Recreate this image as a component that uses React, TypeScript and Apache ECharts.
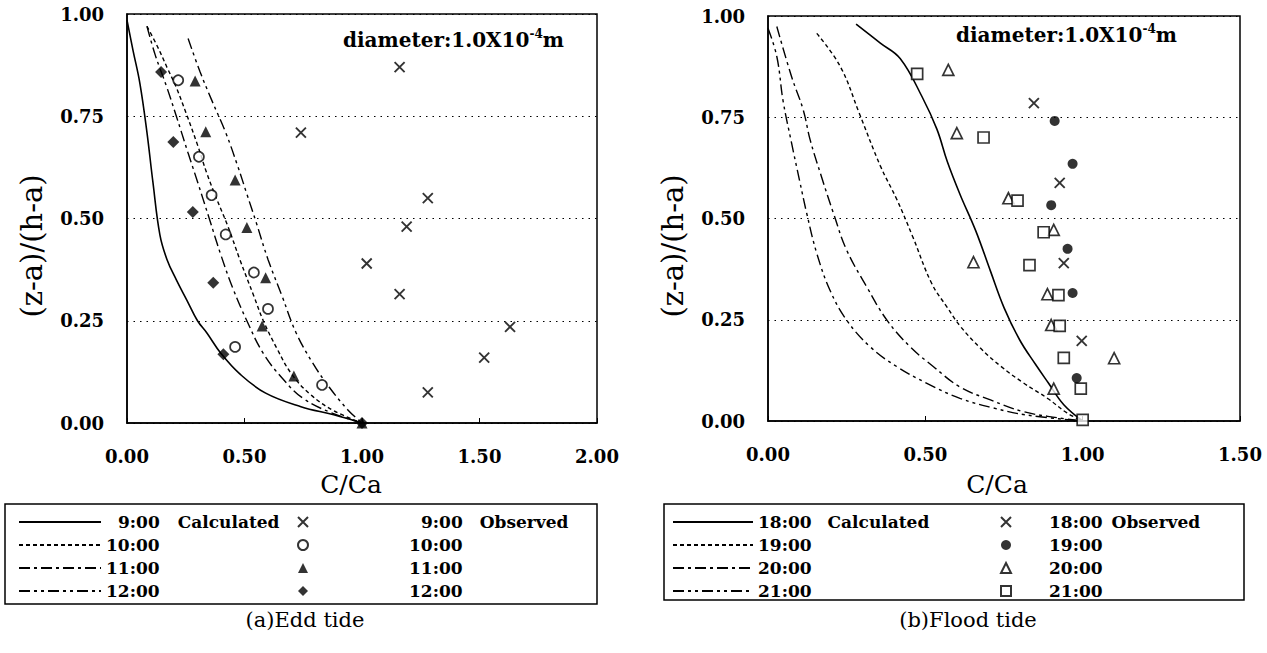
import React, { useEffect, useRef } from "react";
import * as echarts from "echarts";

// ---------- Ebb tide (a) ----------
const ebbCalc9 = [[0, 0.985], [0.026, 0.91], [0.055, 0.83], [0.085, 0.71], [0.11, 0.59], [0.14, 0.46], [0.17, 0.4], [0.21, 0.35], [0.255, 0.3], [0.3, 0.25], [0.34, 0.22], [0.4, 0.17], [0.48, 0.12], [0.59, 0.073], [0.74, 0.04], [0.88, 0.02], [1.0, 0]];
const ebbCalc10 = [[0.085, 0.97], [0.13, 0.92], [0.17, 0.87], [0.21, 0.82], [0.25, 0.76], [0.3, 0.68], [0.34, 0.61], [0.38, 0.55], [0.43, 0.48], [0.48, 0.4], [0.54, 0.31], [0.58, 0.25], [0.64, 0.18], [0.7, 0.12], [0.78, 0.07], [0.88, 0.03], [1.0, 0]];
const ebbCalc11 = [[0.085, 0.97], [0.12, 0.9], [0.17, 0.82], [0.21, 0.75], [0.26, 0.66], [0.3, 0.59], [0.35, 0.5], [0.4, 0.41], [0.45, 0.33], [0.51, 0.25], [0.58, 0.17], [0.66, 0.11], [0.75, 0.06], [0.87, 0.025], [1.0, 0]];
const ebbCalc12 = [[0.26, 0.94], [0.31, 0.86], [0.36, 0.79], [0.42, 0.71], [0.47, 0.63], [0.51, 0.56], [0.55, 0.49], [0.6, 0.4], [0.66, 0.31], [0.72, 0.22], [0.79, 0.147], [0.86, 0.088], [0.94, 0.032], [1.0, 0]];
const ebbObs9 = [[1.16, 0.87], [0.74, 0.71], [1.28, 0.55], [1.19, 0.48], [1.02, 0.39], [1.16, 0.315], [1.63, 0.235], [1.52, 0.16], [1.28, 0.075]];
const ebbObs10 = [[0.218, 0.838], [0.306, 0.651], [0.36, 0.557], [0.42, 0.461], [0.54, 0.368], [0.6, 0.279], [0.46, 0.186], [0.83, 0.093]];
const ebbObs11 = [[0.29, 0.836], [0.335, 0.712], [0.46, 0.594], [0.51, 0.478], [0.59, 0.355], [0.575, 0.237], [0.71, 0.115], [1.0, 0]];
const ebbObs12 = [[0.145, 0.858], [0.197, 0.687], [0.28, 0.516], [0.367, 0.343], [0.41, 0.168], [1.0, 0]];

// ---------- Flood tide (b) ----------
const floodCalc18 = [[0.28, 0.98], [0.357, 0.933], [0.42, 0.895], [0.49, 0.8], [0.537, 0.72], [0.57, 0.64], [0.61, 0.56], [0.66, 0.47], [0.707, 0.37], [0.75, 0.28], [0.8, 0.2], [0.85, 0.14], [0.89, 0.095], [0.94, 0.04], [1.0, 0]];
const floodCalc19 = [[0.155, 0.957], [0.23, 0.875], [0.29, 0.76], [0.357, 0.63], [0.41, 0.546], [0.46, 0.455], [0.52, 0.34], [0.57, 0.28], [0.61, 0.235], [0.675, 0.18], [0.74, 0.135], [0.81, 0.095], [0.89, 0.055], [0.95, 0.02], [1.0, 0]];
const floodCalc20 = [[0.028, 0.974], [0.075, 0.85], [0.112, 0.768], [0.134, 0.694], [0.17, 0.603], [0.208, 0.513], [0.25, 0.422], [0.314, 0.331], [0.378, 0.249], [0.452, 0.183], [0.526, 0.134], [0.61, 0.084], [0.707, 0.052], [0.812, 0.023], [0.92, 0.008], [1.0, 0]];
const floodCalc21 = [[0.0, 0.97], [0.028, 0.9], [0.048, 0.79], [0.075, 0.686], [0.1, 0.595], [0.123, 0.513], [0.155, 0.414], [0.197, 0.323], [0.25, 0.249], [0.325, 0.183], [0.41, 0.134], [0.505, 0.093], [0.61, 0.056], [0.717, 0.032], [0.82, 0.015], [1.0, 0]];
const floodObs18 = [[0.845, 0.785], [0.927, 0.588], [0.94, 0.39], [0.997, 0.198]];
const floodObs19 = [[0.911, 0.741], [0.968, 0.635], [0.9, 0.533], [0.952, 0.425], [0.968, 0.316], [0.981, 0.106]];
const floodObs20 = [[0.573, 0.867], [0.6, 0.711], [0.764, 0.55], [0.908, 0.472], [0.653, 0.392], [0.888, 0.313], [0.9, 0.237], [1.1, 0.155], [0.908, 0.08]];
const floodObs21 = [[0.474, 0.857], [0.685, 0.7], [0.793, 0.544], [0.876, 0.466], [0.831, 0.385], [0.923, 0.311], [0.927, 0.235], [0.94, 0.156], [0.994, 0.08], [1.0, 0.003]];

const ebbXTicks = [0, 2, 0.5];
const floodXTicks = [0, 1.5, 0.5];
const yTicks = [0, 1, 0.25];

const FONT = "DejaVu Serif";
const CROSS = "path://M0,0L10,10M10,0L0,10";

const lineDash: Record<string, any> = {
  solid: "solid",
  short: [4, 3],
  dashDot: [11, 4, 3, 4],
  dashDotDot: [11, 4, 3, 4, 3, 4],
};

function lineSeries(name: string, data: number[][], dash: any, idx: number) {
  return {
    name,
    type: "line",
    xAxisIndex: idx,
    yAxisIndex: idx,
    data,
    smooth: 0.4,
    symbol: "none",
    showSymbol: false,
    lineStyle: { color: "#000", width: dash === "solid" ? 1.6 : 1.4, type: dash },
    itemStyle: { color: "#000" },
    z: 2,
  };
}

function scatterSeries(name: string, data: number[][], kind: string, idx: number) {
  const styles: Record<string, any> = {
    cross: { symbol: CROSS, size: 10, itemStyle: { color: "rgba(0,0,0,0)", borderColor: "#000", borderWidth: 1.9 } },
    openCircle: { symbol: "circle", size: 10, itemStyle: { color: "#fff", borderColor: "#000", borderWidth: 1.7 } },
    fillTriangle: { symbol: "triangle", size: 11, itemStyle: { color: "#000" } },
    fillDiamond: { symbol: "diamond", size: 12, itemStyle: { color: "#000" } },
    fillCircle: { symbol: "circle", size: 10, itemStyle: { color: "#000" } },
    openTriangle: { symbol: "triangle", size: 11, itemStyle: { color: "#fff", borderColor: "#000", borderWidth: 1.7 } },
    openSquare: { symbol: "rect", size: 11, itemStyle: { color: "#fff", borderColor: "#000", borderWidth: 1.7 } },
  };
  const s = styles[kind];
  return {
    name,
    type: "scatter",
    xAxisIndex: idx,
    yAxisIndex: idx,
    data,
    symbol: s.symbol,
    symbolSize: s.size,
    itemStyle: s.itemStyle,
    z: 3,
  };
}

// legend labels: first token is the time, second the column title
const labelNames: Record<string, string[]> = {
  e9c: ["9:00", "Calculated"], e10c: ["10:00"], e11c: ["11:00"], e12c: ["12:00"],
  e9o: ["9:00", "Observed"], e10o: ["10:00"], e11o: ["11:00"], e12o: ["12:00"],
  f18c: ["18:00", "Calculated"], f19c: ["19:00"], f20c: ["20:00"], f21c: ["21:00"],
  f18o: ["18:00", "Observed"], f19o: ["19:00"], f20o: ["20:00"], f21o: ["21:00"],
};

const txt = { fontFamily: FONT, fontWeight: "bold", fontSize: 17, color: "#000", lineHeight: 18 };

function legendOf(names: string[], left: number, itemWidth: number, itemHeight: number, padTwo: number, gapC: number, isLine: boolean) {
  const lg: any = {
    data: names,
    orient: "vertical",
    left,
    top: 513,
    itemWidth,
    itemHeight,
    itemGap: 5,
    selectedMode: false,
    padding: 0,
    formatter: (n: string) => {
      const p = labelNames[n];
      const tok = p[0].length < 5 ? "one" : "two";
      return `{${tok}|${p[0]}}` + (p[1] ? `{c|${p[1]}}` : "");
    },
    textStyle: {
      ...txt,
      rich: {
        two: { ...txt, padding: [0, 0, 0, padTwo] },
        one: { ...txt, padding: [0, 0, 0, padTwo + 12] },
        c: { ...txt, padding: [0, 0, 0, gapC] },
      },
    },
  };
  if (isLine) {
    lg.itemStyle = { color: "rgba(0,0,0,0)", borderColor: "rgba(0,0,0,0)", borderWidth: 0 };
  }
  return lg;
}

function xAxisOf(idx: number, t: number[]) {
  return {
    gridIndex: idx,
    type: "value",
    min: t[0],
    max: t[1],
    interval: t[2],
    axisLine: { show: true, onZero: false, lineStyle: { color: "#000", width: 1.5 } },
    axisTick: { show: true, inside: true, length: 5, lineStyle: { color: "#000" } },
    axisLabel: { color: "#000", fontFamily: FONT, fontWeight: "bold", fontSize: 18, margin: 24, formatter: (v: number) => v.toFixed(2) },
    splitLine: { show: false },
  };
}

function yAxisOf(idx: number) {
  return {
    gridIndex: idx,
    type: "value",
    min: yTicks[0],
    max: yTicks[1],
    interval: yTicks[2],
    axisLine: { show: true, lineStyle: { color: "#000", width: 1.5 } },
    axisTick: { show: false },
    axisLabel: { color: "#000", fontFamily: FONT, fontWeight: "bold", fontSize: 18, margin: 23, formatter: (v: number) => v.toFixed(2) },
    splitLine: { show: true, lineStyle: { color: "#000", width: 1, type: [1.5, 5] } },
  };
}

function diameterText(x: number, y: number) {
  return {
    type: "text",
    x,
    y,
    style: {
      text: "{a|diameter:1.0X10}{s|-4}{a|m}",
      verticalAlign: "middle",
      rich: {
        a: { fontFamily: FONT, fontWeight: "bold", fontSize: 20, fill: "#000", color: "#000" },
        s: { fontFamily: FONT, fontWeight: "bold", fontSize: 12, fill: "#000", color: "#000", verticalAlign: "top", padding: [0, 0, 12, 0] },
      },
    },
  };
}

function plainText(text: string, x: number, y: number, size: number, rotate = 0) {
  return {
    type: "text",
    x,
    y,
    rotation: rotate,
    style: { text, fontFamily: FONT, fontSize: size, fill: "#000", align: "center", verticalAlign: "middle" },
  };
}

export default function App() {
  const ref = useRef<HTMLDivElement>(null);
  useEffect(() => {
    if (!ref.current) return;
    const chart = echarts.init(ref.current, undefined, { renderer: "svg" });
    const option: any = {
      animation: false,
      backgroundColor: "#fff",
      grid: [
        { left: 127, top: 14, width: 470, height: 409, show: true, borderColor: "#000", borderWidth: 1.5, backgroundColor: "transparent" },
        { left: 768, top: 16, width: 472, height: 405, show: true, borderColor: "#000", borderWidth: 1.5, backgroundColor: "transparent" },
      ],
      xAxis: [xAxisOf(0, ebbXTicks), xAxisOf(1, floodXTicks)],
      yAxis: [yAxisOf(0), yAxisOf(1)],
      legend: [
        legendOf(["e9c", "e10c", "e11c", "e12c"], 18, 82, 18, 0, 18, true),
        legendOf(["e9o", "e10o", "e11o", "e12o"], 297, 10, 10, 96, 17, false),
        legendOf(["f18c", "f19c", "f20c", "f21c"], 672, 80, 18, 0, 16, true),
        legendOf(["f18o", "f19o", "f20o", "f21o"], 1000, 10, 10, 33, 9, false),
      ],
      series: [
        lineSeries("e9c", ebbCalc9, lineDash.solid, 0),
        lineSeries("e10c", ebbCalc10, lineDash.short, 0),
        lineSeries("e11c", ebbCalc11, lineDash.dashDot, 0),
        lineSeries("e12c", ebbCalc12, lineDash.dashDotDot, 0),
        scatterSeries("e9o", ebbObs9, "cross", 0),
        scatterSeries("e10o", ebbObs10, "openCircle", 0),
        scatterSeries("e11o", ebbObs11, "fillTriangle", 0),
        scatterSeries("e12o", ebbObs12, "fillDiamond", 0),
        lineSeries("f18c", floodCalc18, lineDash.solid, 1),
        lineSeries("f19c", floodCalc19, lineDash.short, 1),
        lineSeries("f20c", floodCalc20, lineDash.dashDot, 1),
        lineSeries("f21c", floodCalc21, lineDash.dashDotDot, 1),
        scatterSeries("f18o", floodObs18, "cross", 1),
        scatterSeries("f19o", floodObs19, "fillCircle", 1),
        scatterSeries("f20o", floodObs20, "openTriangle", 1),
        scatterSeries("f21o", floodObs21, "openSquare", 1),
      ],
      graphic: [
        { type: "rect", shape: { x: 5, y: 504, width: 592, height: 100 }, style: { fill: "none", stroke: "#000", lineWidth: 1.5 } },
        { type: "rect", shape: { x: 664, y: 504, width: 580, height: 96 }, style: { fill: "none", stroke: "#000", lineWidth: 1.5 } },
        plainText("(z-a)/(h-a)", 32, 246, 29, Math.PI / 2),
        plainText("(z-a)/(h-a)", 673, 246, 29, Math.PI / 2),
        plainText("C/Ca", 351, 484, 25),
        plainText("C/Ca", 997, 484, 25),
        diameterText(343, 40),
        diameterText(956, 35),
        plainText("(a)Edd tide", 305, 620, 21),
        plainText("(b)Flood tide", 968, 620, 21),
      ],
    };
    chart.setOption(option);
    return () => chart.dispose();
  }, []);
  return <div ref={ref} style={{ position: "absolute", left: 0, top: 0, width: 1267, height: 653 }} />;
}
